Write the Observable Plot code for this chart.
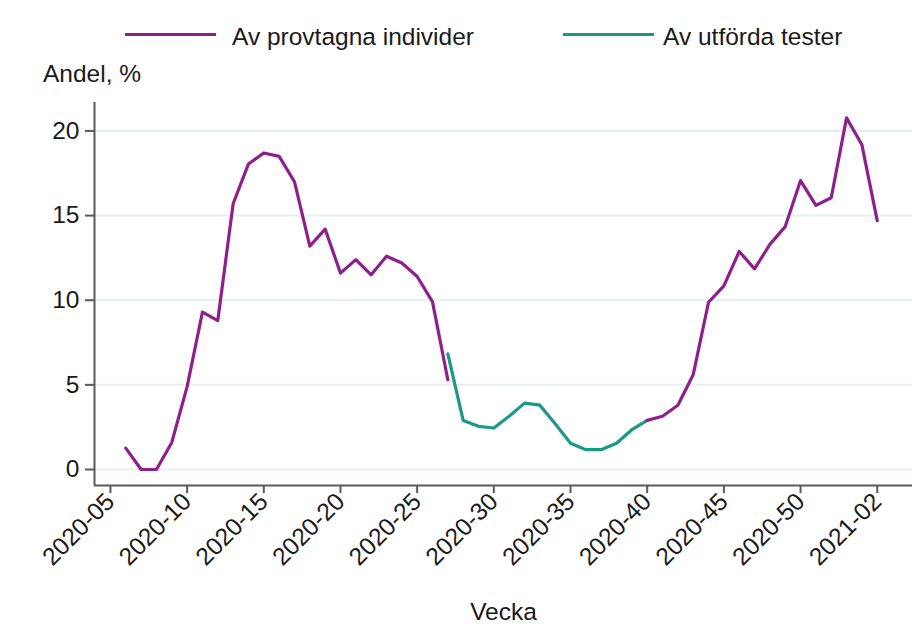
<!DOCTYPE html>
<html>
<head>
<meta charset="utf-8">
<script src="https://cdn.jsdelivr.net/npm/d3@7"></script>
<script src="https://cdn.jsdelivr.net/npm/@observablehq/plot@0.6"></script>
<style>
  html, body { margin: 0; padding: 0; background: #fff; }
  #wrap { position: relative; width: 912px; height: 637px; font-family: "Liberation Sans", Arial, sans-serif; color: #1a1a1a; }
  #head { position: relative; width: 912px; height: 92px; }
  .sw { position: absolute; height: 3px; top: 33px; }
  .lt { position: absolute; font-size: 24.5px; line-height: 24.5px; top: 24.5px; white-space: nowrap; }
  #ylab { position: absolute; left: 43px; top: 62px; font-size: 24.5px; line-height: 24.5px; white-space: nowrap; }
</style>
</head>
<body>
<div id="wrap">
  <div id="head">
    <div class="sw" style="left:125px;width:91px;background:#8e208c"></div>
    <div class="lt" style="left:232px">Av provtagna individer</div>
    <div class="sw" style="left:563px;width:91px;background:#1b9986"></div>
    <div class="lt" style="left:663px">Av utförda tester</div>
    <div id="ylab">Andel, %</div>
  </div>
  <div id="chart"></div>
</div>
<script>
// Week index: 2020-05 = 5 ... 2020-53 = 53, 2021-01 = 54, 2021-02 = 55
const tickWeeks = [5, 10, 15, 20, 25, 30, 35, 40, 45, 50, 55];
const tickLabels = ["2020-05", "2020-10", "2020-15", "2020-20", "2020-25", "2020-30", "2020-35", "2020-40", "2020-45", "2020-50", "2021-02"];
const yTicks = [0, 5, 10, 15, 20];

// Av provtagna individer (part 1), weeks 6..27
const weeksIndivA = [6, 7, 8, 9, 10, 11, 12, 13, 14, 15, 16, 17, 18, 19, 20, 21, 22, 23, 24, 25, 26, 27];
const valuesIndivA = [1.26, 0, 0, 1.6, 4.9, 9.3, 8.8, 15.7, 18.05, 18.7, 18.5, 17.0, 13.2, 14.2, 11.6, 12.4, 11.5, 12.6, 12.2, 11.4, 9.9, 5.3];

// Av utförda tester, weeks 27..40
const weeksTests = [27, 28, 29, 30, 31, 32, 33, 34, 35, 36, 37, 38, 39, 40];
const valuesTests = [6.83, 2.9, 2.55, 2.45, 3.15, 3.92, 3.8, 2.7, 1.55, 1.17, 1.17, 1.55, 2.35, 2.9];

// Av provtagna individer (part 2), weeks 40..55
const weeksIndivB = [40, 41, 42, 43, 44, 45, 46, 47, 48, 49, 50, 51, 52, 53, 54, 55];
const valuesIndivB = [2.9, 3.15, 3.8, 5.6, 9.88, 10.85, 12.88, 11.85, 13.3, 14.35, 17.07, 15.6, 16.05, 20.77, 19.18, 14.7];

const xDomain = [3.96, 57.3];
const yDomain = [-0.945, 21.68];

const toRows = (ws, vs, series) => ws.map((w, i) => ({week: w, value: vs[i], series}));
const indivA = toRows(weeksIndivA, valuesIndivA, "Av provtagna individer");
const tests = toRows(weeksTests, valuesTests, "Av utförda tester");
const indivB = toRows(weeksIndivB, valuesIndivB, "Av provtagna individer");

const purple = "#8e208c";
const teal = "#1b9986";
const axisCol = "#5a5a5a";

const chart = Plot.plot({
  width: 912,
  height: 545,
  marginTop: 10,
  marginBottom: 152,
  marginLeft: 94,
  marginRight: 0,
  style: {fontFamily: "Liberation Sans, Arial, sans-serif", fontSize: "24.5px", color: "#1a1a1a", background: "#fff"},
  x: {domain: xDomain},
  y: {domain: yDomain},
  marks: [
    Plot.gridY(yTicks, {stroke: "#e6eff2", strokeOpacity: 1, strokeWidth: 2}),
    Plot.line(indivA, {x: "week", y: "value", stroke: purple, strokeWidth: 3.2}),
    Plot.line(tests, {x: "week", y: "value", stroke: teal, strokeWidth: 3.2}),
    Plot.line(indivB, {x: "week", y: "value", stroke: purple, strokeWidth: 3.2}),
    Plot.ruleX([xDomain[0]], {stroke: axisCol, strokeWidth: 2}),
    Plot.ruleY([yDomain[0]], {stroke: axisCol, strokeWidth: 2}),
    Plot.axisY({ticks: yTicks, tickSize: 9, tickPadding: 6, stroke: axisCol, strokeWidth: 2, label: null, fontSize: 24.5}),
    Plot.axisX({
      ticks: tickWeeks,
      tickFormat: (d) => tickLabels[tickWeeks.indexOf(d)],
      tickRotate: -45,
      tickSize: 8,
      tickPadding: 4,
      stroke: axisCol,
      strokeWidth: 2,
      fontSize: 24.5,
      label: "Vecka",
      labelAnchor: "center",
      labelArrow: "none",
      labelOffset: 134
    })
  ]
});
document.getElementById("chart").appendChild(chart);
</script>
</body>
</html>
